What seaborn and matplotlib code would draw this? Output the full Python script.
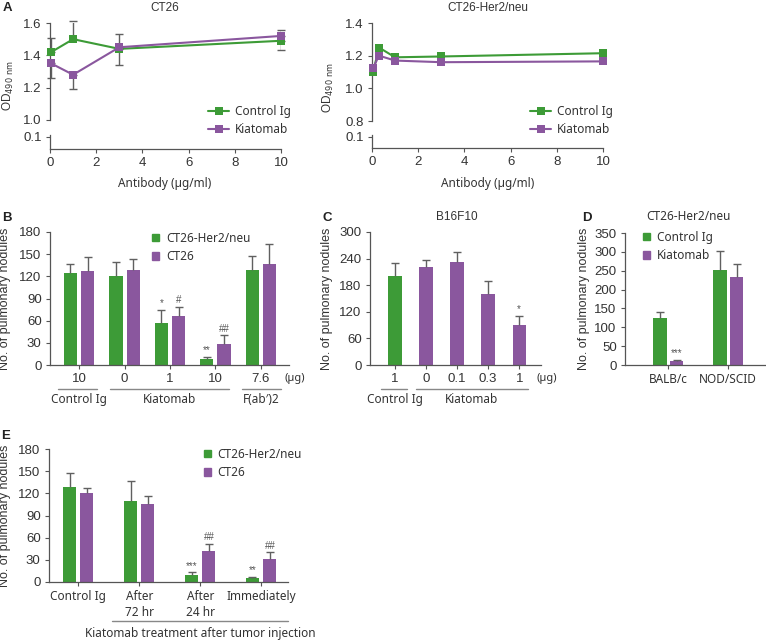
import numpy as np
import pandas as pd
import matplotlib
matplotlib.use("Agg")
from matplotlib import pyplot as plt
from matplotlib.lines import Line2D
from matplotlib.patches import Patch
import matplotlib.transforms as mtransforms
import seaborn as sns

sns.set_style("ticks")
plt.rcParams['font.family'] = ['Liberation Sans', 'DejaVu Sans']

GREEN = "#3d9b37"
PURPLE = "#8a579e"
SPINE = "#555555"
ERR = "#606060"
TXT = "#333333"
WORD_FONT = "Noto Sans"

# Painel A - proliferacao (OD490)
dose_ct26 = [0.05, 1, 3, 10]
od_ct26_ctrl = [1.42, 1.50, 1.44, 1.49]
od_ct26_kia = [1.35, 1.28, 1.45, 1.52]
err_ct26_ctrl = [0.09, 0.11, 0.09, 0.065]   # so para cima
err_ct26_kia = [0.09, 0.09, 0.11, 0.09]     # so para baixo

dose_her2 = [0.05, 0.3, 1, 3, 10]
od_her2_ctrl = [1.10, 1.25, 1.19, 1.195, 1.215]
od_her2_kia = [1.125, 1.20, 1.17, 1.16, 1.165]

# Painel B
b_keys = ["Control Ig 10", "Kiatomab 0", "Kiatomab 1", "Kiatomab 10", "F(ab')2 7.6"]
b_ticks = ["10", "0", "1", "10", "7.6"]
b_her2 = [124, 121, 57, 8, 128]
b_her2_err = [13, 18, 18, 3, 19]
b_her2_sig = ["", "", "*", "**", ""]
b_ct26 = [127, 128, 66, 29, 137]
b_ct26_err = [19, 15, 13, 11, 27]
b_ct26_sig = ["", "", "#", "##", ""]

# Painel C
c_keys = ["Control Ig 1", "Kiatomab 0", "Kiatomab 0.1", "Kiatomab 0.3", "Kiatomab 1"]
c_ticks = ["1", "0", "0.1", "0.3", "1"]
c_treat = ["Control Ig", "Kiatomab", "Kiatomab", "Kiatomab", "Kiatomab"]
c_vals = [200, 222, 233, 161, 90]
c_err = [29, 15, 21, 29, 21]
c_sig = ["", "", "", "", "*"]

# Painel D
d_mice = ["BALB/c", "NOD/SCID"]
d_ctrl = [124, 253]
d_ctrl_err = [16, 48]
d_kia = [11, 233]
d_kia_err = [3, 35]
d_kia_sig = ["***", ""]

# Painel E
e_keys = ["Control Ig", "After\n72 hr", "After\n24 hr", "Immediately"]
e_her2 = [128, 110, 10, 5]
e_her2_err = [20, 27, 3, 2]
e_her2_sig = ["", "", "***", "**"]
e_ct26 = [121, 106, 42, 31]
e_ct26_err = [6, 10, 10, 9]
e_ct26_sig = ["", "", "##", "##"]

W, H = 766, 641
fig = plt.figure(figsize=(W / 100, H / 100), dpi=100)


def box(l, t, r, b):
    return fig.add_axes([l / W, 1 - b / H, (r - l) / W, (b - t) / H])


def style(ax, left=True, bottom=True):
    sns.despine(ax=ax, top=True, right=True, left=not left, bottom=not bottom)
    for s in ax.spines.values():
        s.set_color(SPINE)
        s.set_linewidth(0.9)
    ax.tick_params(length=3, width=0.8, color=SPINE, labelsize=9.5, labelcolor=TXT, pad=3)
    ax.set_xlabel("")
    ax.set_ylabel("")


def ftext(x, y, s, **kw):
    kw.setdefault("ha", "center")
    kw.setdefault("va", "center")
    kw.setdefault("color", TXT)
    fig.text(x / W, 1 - y / H, s, **kw)


def up_err(ax, container, err, sig=None):
    if sig is None:
        sig = [""] * len(err)
    for bar, e, s in zip(container, err, sig):
        x = bar.get_x() + bar.get_width() / 2
        h = bar.get_height()
        ax.vlines(x, h, h + e, color=ERR, lw=1, zorder=1)
        ax.plot(x, h + e, marker="_", ms=6, mew=1, color=ERR, zorder=1)
        if s:
            ax.annotate(s, (x, h + e), xytext=(0, 1), textcoords="offset points",
                        ha="center", va="bottom", fontsize=7, color="#555555")


def legend_at(ax, handles, labels, x, y, square=True):
    if square:
        kw = dict(handlelength=0.6, handleheight=0.6, handletextpad=0.6, labelspacing=0.45)
    else:
        kw = dict(handlelength=1.8, handletextpad=0.45, labelspacing=0.45)
    ax.legend(handles, labels, loc="center left", bbox_to_anchor=(x / W, 1 - y / H),
              bbox_transform=fig.transFigure, frameon=False, borderpad=0, borderaxespad=0,
              prop={"family": WORD_FONT, "size": 8.5}, labelcolor=TXT, **kw)


def group_line(ax, x0, x1, y_line, label, x_lab, y_lab):
    trans = mtransforms.blended_transform_factory(ax.transData, ax.transAxes)
    ax.plot([x0, x1], [y_line, y_line], transform=trans, color="#888888", lw=1, clip_on=False)
    ax.text(x_lab, y_lab, label, transform=trans, ha="center", va="center",
            fontsize=8.5, color=TXT, family=WORD_FONT)


# ---------- A ----------
def panel_a(l, r, top, split, lo_top, bottom, ylim, yticks, dose, ctrl, kia, e_ctrl, e_kia, leg_x):
    ax = box(l, top, r, split)
    df = pd.DataFrame({"dose": list(dose) * 2,
                       "od": list(ctrl) + list(kia),
                       "ab": ["Control Ig"] * len(dose) + ["Kiatomab"] * len(dose)})
    if e_ctrl is not None:
        ax.errorbar(dose, ctrl, yerr=[np.zeros(len(e_ctrl)), e_ctrl], fmt="none",
                    ecolor=ERR, elinewidth=1, capsize=3, zorder=1)
        ax.errorbar(dose, kia, yerr=[e_kia, np.zeros(len(e_kia))], fmt="none",
                    ecolor=ERR, elinewidth=1, capsize=3, zorder=1)
    sns.lineplot(data=df, x="dose", y="od", hue="ab", palette=[GREEN, PURPLE], marker="s",
                 markersize=6, markeredgewidth=0, lw=1.5, legend=False, ax=ax, zorder=3)
    ax.set_xlim(0, 10)
    ax.set_ylim(*ylim)
    ax.set_yticks(yticks)
    ax.set_yticklabels([f"{v:.1f}" for v in yticks])
    ax.set_xticks([])
    style(ax, bottom=False)
    for ln in ax.lines:
        ln.set_clip_on(False)

    lo = box(l, lo_top, r, bottom)
    lo.set_xlim(0, 10)
    lo.set_ylim(0, 0.115)
    lo.set_yticks([0.1])
    lo.set_yticklabels(["0.1"])
    lo.set_xticks(range(0, 11, 2))
    lo.set_facecolor("none")
    style(lo)

    hs = [Line2D([], [], color=c, marker="s", ms=6, mew=0, lw=1.5) for c in (GREEN, PURPLE)]
    legend_at(ax, hs, ["Control Ig", "Kiatomab"], leg_x, 120.5, square=False)
    return ax


panel_a(50, 281, 23, 120, 135, 149, (1.0, 1.6), [1.0, 1.2, 1.4, 1.6],
        dose_ct26, od_ct26_ctrl, od_ct26_kia, err_ct26_ctrl, err_ct26_kia, 208)
panel_a(372, 603, 23, 121, 135, 148, (0.8, 1.4), [0.8, 1.0, 1.2, 1.4],
        dose_her2, od_her2_ctrl, od_her2_kia, None, None, 530)

ftext(165, 8, "CT26", fontsize=8.5)
ftext(488, 8, "CT26-Her2/neu", fontsize=8.5)
ftext(165, 183, "Antibody (\u00b5g/ml)", fontsize=8.5, family=WORD_FONT)
ftext(488, 183, "Antibody (\u00b5g/ml)", fontsize=8.5, family=WORD_FONT)
ftext(8, 86, "OD$_{490\\ \\mathrm{nm}}$", fontsize=8.5, rotation=90)
ftext(328, 88, "OD$_{490\\ \\mathrm{nm}}$", fontsize=8.5, rotation=90)

# ---------- B ----------
ax = box(50, 232, 289, 365)
dfb = pd.DataFrame({"key": b_keys * 2, "n": b_her2 + b_ct26,
                    "cell": ["CT26-Her2/neu"] * 5 + ["CT26"] * 5})
sns.barplot(data=dfb, x="key", y="n", hue="cell", palette=[GREEN, PURPLE], width=0.76, gap=0.23,
            errorbar=None, saturation=1, linewidth=0, legend=False, ax=ax)
up_err(ax, ax.containers[0], b_her2_err, b_her2_sig)
up_err(ax, ax.containers[1], b_ct26_err, b_ct26_sig)
ax.set_xlim(-0.64, 4.62)
ax.set_ylim(0, 180)
ax.set_yticks(range(0, 181, 30))
ax.set_xticks(range(5))
ax.set_xticklabels(b_ticks)
style(ax)
legend_at(ax, [Patch(color=GREEN), Patch(color=PURPLE)], ["CT26-Her2/neu", "CT26"], 152, 247.5)
group_line(ax, -0.46, 0.40, -0.18, "Control Ig", 0, -0.26)
group_line(ax, 0.67, 3.31, -0.18, "Kiatomab", 2, -0.26)
group_line(ax, 3.58, 4.44, -0.18, "F(ab\u2032)2", 4, -0.26)
ftext(295, 378, "(\u00b5g)", fontsize=8, family=WORD_FONT)
ax.set_ylabel("No. of pulmonary nodules", fontsize=9, color=TXT)
ax.yaxis.set_label_coords(-0.163, 0.5)

# ---------- C ----------
ax = box(370, 232, 541, 365)
dfc = pd.DataFrame({"key": c_keys, "n": c_vals, "treat": c_treat})
sns.barplot(data=dfc, x="key", y="n", hue="treat", palette=[GREEN, PURPLE], width=0.43,
            dodge=False, errorbar=None, saturation=1, linewidth=0, legend=False, ax=ax)
bars = sorted([b for c in ax.containers for b in c], key=lambda b: b.get_x())
up_err(ax, bars, c_err, c_sig)
ax.set_xlim(-0.8, 4.7)
ax.set_ylim(0, 300)
ax.set_yticks(range(0, 301, 60))
ax.set_xticks(range(5))
ax.set_xticklabels(c_ticks)
style(ax)
group_line(ax, -0.45, 0.39, -0.18, "Control Ig", 0, -0.26)
group_line(ax, 0.68, 4.29, -0.18, "Kiatomab", 2.48, -0.26)
ftext(547, 378, "(\u00b5g)", fontsize=8, family=WORD_FONT)
ax.set_ylabel("No. of pulmonary nodules", fontsize=9, color=TXT)
ax.yaxis.set_label_coords(-0.216, 0.5)
ftext(457, 217, "B16F10", fontsize=8.5)

# ---------- D ----------
ax = box(625, 233, 766, 365)
dfd = pd.DataFrame({"mice": d_mice * 2, "n": d_ctrl + d_kia,
                    "ab": ["Control Ig"] * 2 + ["Kiatomab"] * 2})
sns.barplot(data=dfd, x="mice", y="n", hue="ab", palette=[GREEN, PURPLE], width=0.556, gap=0.2,
            errorbar=None, saturation=1, linewidth=0, legend=False, ax=ax)
up_err(ax, ax.containers[0], d_ctrl_err)
up_err(ax, ax.containers[1], d_kia_err, d_kia_sig)
ax.set_xlim(-0.72, 1.63)
ax.set_ylim(0, 350)
ax.set_yticks(range(0, 351, 50))
style(ax)
for t in ax.get_xticklabels():
    t.set_family(WORD_FONT)
    t.set_fontsize(8.5)
legend_at(ax, [Patch(color=GREEN), Patch(color=PURPLE)], ["Control Ig", "Kiatomab"], 643, 246.5)
ax.set_ylabel("No. of pulmonary nodules", fontsize=9, color=TXT)
ax.yaxis.set_label_coords(-0.248, 0.5)
ftext(688, 217, "CT26-Her2/neu", fontsize=8.5, family=WORD_FONT)

# ---------- E ----------
ax = box(49, 449, 288, 582)
dfe = pd.DataFrame({"key": e_keys * 2, "n": e_her2 + e_ct26,
                    "cell": ["CT26-Her2/neu"] * 4 + ["CT26"] * 4})
sns.barplot(data=dfe, x="key", y="n", hue="cell", palette=[GREEN, PURPLE], width=0.57, gap=0.25,
            errorbar=None, saturation=1, linewidth=0, legend=False, ax=ax)
up_err(ax, ax.containers[0], e_her2_err, e_her2_sig)
up_err(ax, ax.containers[1], e_ct26_err, e_ct26_sig)
ax.set_xlim(-0.48, 3.44)
ax.set_ylim(0, 180)
ax.set_yticks(range(0, 181, 30))
style(ax)
for t in ax.get_xticklabels():
    t.set_family(WORD_FONT)
    t.set_fontsize(8.5)
    t.set_linespacing(1.3)
legend_at(ax, [Patch(color=GREEN), Patch(color=PURPLE)], ["CT26-Her2/neu", "CT26"], 203.5, 463.5)
group_line(ax, 0.557, 3.44, -0.293, "Kiatomab treatment after tumor injection", 2.0, -0.385)
ax.set_ylabel("No. of pulmonary nodules", fontsize=9, color=TXT)
ax.yaxis.set_label_coords(-0.159, 0.5)

# letras dos paineis
for lab, x, y in [("A", 7, 8), ("B", 7, 218), ("C", 327, 218), ("D", 587, 218), ("E", 6, 436)]:
    ftext(x, y, lab, fontsize=9.5, fontweight="bold", color="#222222")

fig.savefig("out.png", dpi=100)
